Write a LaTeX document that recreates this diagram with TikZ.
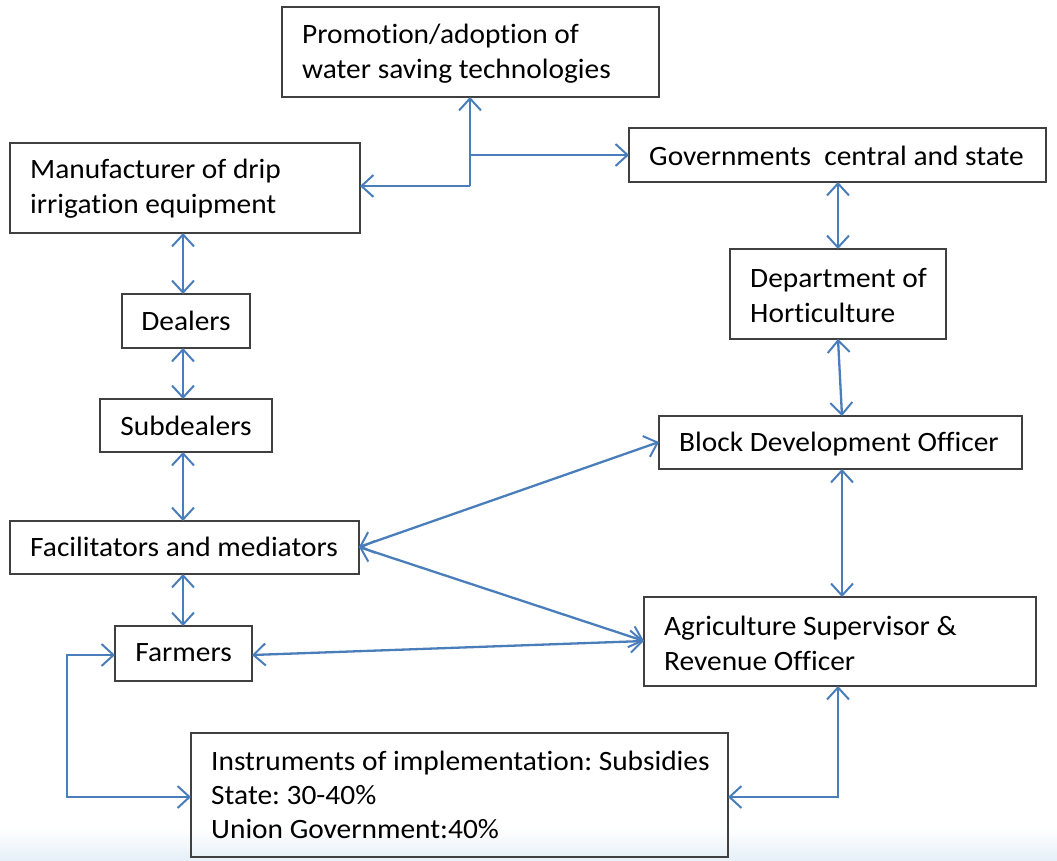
\documentclass[tikz,border=0pt]{standalone}
\usepackage{fontspec}
\setmainfont[Ligatures=NoCommon,FakeStretch=1.05]{Carlito}
\usetikzlibrary{arrows.meta}
\definecolor{arr}{HTML}{4A7EBB}
\definecolor{bord}{HTML}{404040}
\definecolor{bgb}{HTML}{E6F0F8}
\frenchspacing
\begin{document}
\begin{tikzpicture}[x=1pt,y=-1pt,
  box/.style={draw=bord,line width=1.3pt,inner sep=0pt,outer sep=0pt},
  lab/.style={anchor=west,inner sep=0pt,font=\fontsize{28}{35}\selectfont,align=left},
  clab/.style={inner sep=0pt,font=\fontsize{28}{35}\selectfont},
  con/.style={draw=arr,line width=2.3pt,{Straight Barb[length=12pt,width=22pt,line width=2pt]}-{Straight Barb[length=12pt,width=22pt,line width=2pt]}},
  one/.style={draw=arr,line width=2.3pt,-{Straight Barb[length=12pt,width=22pt,line width=2pt]}}]
\useasboundingbox (0,0) rectangle (1057,860);
\shade[top color=white,bottom color=bgb] (0,828) rectangle (1057,860);
% boxes
\node[box,minimum width=377pt,minimum height=90pt] (promo) at (470.5,52) {};
\node[lab] (promoT) at (302,54) {Promotion/adoption of\\water saving technologies};
\node[box,minimum width=350pt,minimum height=90pt] (manu) at (185,188) {};
\node[lab] (manuT) at (30,189) {Manufacturer of drip\\irrigation equipment};
\node[box,minimum width=417pt,minimum height=54pt] (gov) at (837.5,155) {};
\node[lab] (govT) at (649,156) {Governments\ \ central and state};
\node[box,minimum width=128pt,minimum height=54pt] (deal) at (186,321) {};
\node[clab] (dealT) at (186,321) {Dealers};
\node[box,minimum width=172pt,minimum height=53pt] (sub) at (186,425.5) {};
\node[clab] (subT) at (186,426) {Subdealers};
\node[box,minimum width=216pt,minimum height=90pt] (dept) at (838,294) {};
\node[lab] (deptT) at (750,295) {Department of\\Horticulture};
\node[box,minimum width=363pt,minimum height=53pt] (bdo) at (840.5,442.5) {};
\node[lab] (bdoT) at (679,444) {Block Development Officer};
\node[box,minimum width=349pt,minimum height=53pt] (fac) at (184.5,547.5) {};
\node[lab] (facT) at (30,547) {Facilitators and mediators};
\node[box,minimum width=137pt,minimum height=55pt] (farm) at (183.5,653.5) {};
\node[clab] (farmT) at (183.5,653) {Farmers};
\node[box,minimum width=392pt,minimum height=89pt] (agri) at (840,641.5) {};
\node[lab] (agriT) at (664,643) {Agriculture Supervisor \&\\Revenue Officer};
\node[box,minimum width=537pt,minimum height=124pt] (inst) at (459.5,795) {};
\node[lab,font=\fontsize{28}{34}\selectfont] (instT) at (211,795) {Instruments of implementation: Subsidies\\State: 30-40\%\\Union Government:40\%};
% connectors
\coordinate (j1) at (470,186);
\coordinate (j2) at (470,155);
\draw[one] (j1) -- (promo.south -| j1);
\draw[one] (j1) -- (manu.east |- j1);
\draw[one] (j2) -- (gov.west |- j2);
\draw[con] (manu.south -| 183,0) -- (deal.north -| 183,0);
\draw[con] (deal.south -| 183,0) -- (sub.north -| 183,0);
\draw[con] (sub.south -| 183,0) -- (fac.north -| 183,0);
\draw[con] (fac.south -| 183,0) -- (farm.north -| 183,0);
\draw[con] (gov.south -| 838,0) -- (dept.north -| 838,0);
\draw[con] (dept.south -| 838,0) -- (bdo.north -| 842,0);
\draw[con] (bdo.south -| 842,0) -- (agri.north -| 842,0);
\coordinate (fr) at (360,547);
\coordinate (ag) at (644,641);
\draw[con] (fac.east |- fr) -- (bdo.west |- 0,442);
\draw[con] (fac.east |- fr) -- (ag);
\draw[con] (farm.east |- 0,655) -- (ag);
\coordinate (l1) at (67,655);
\coordinate (l2) at (67,797);
\draw[con] (farm.west |- l1) -- (l1) -- (l2) -- (inst.west |- l2);
\coordinate (r1) at (838,797);
\draw[con] (inst.east |- r1) -- (r1) -- (agri.south -| r1);
\end{tikzpicture}
\end{document}
